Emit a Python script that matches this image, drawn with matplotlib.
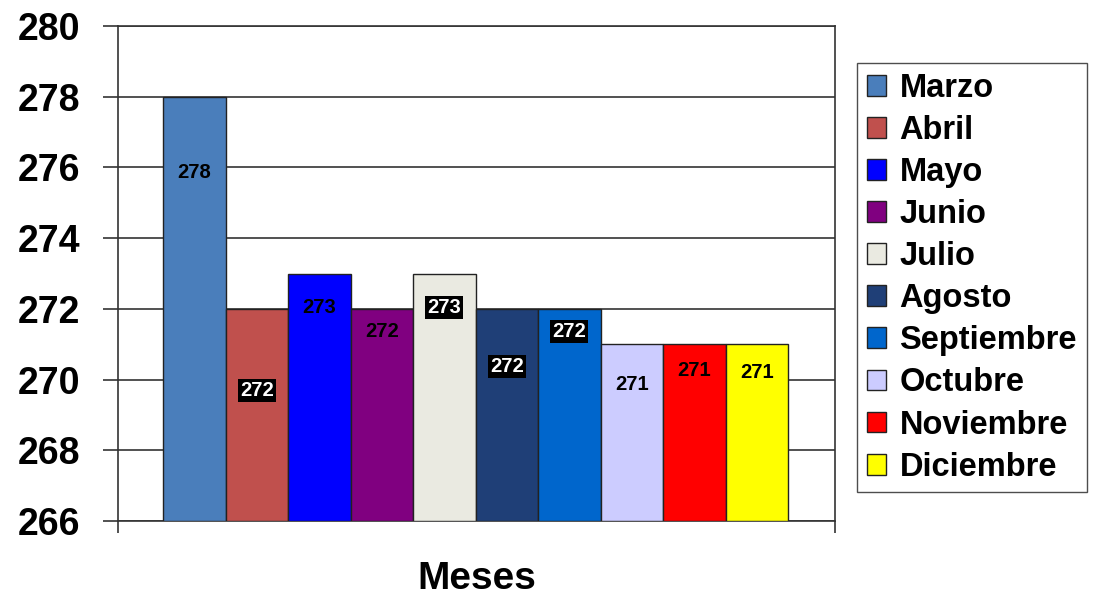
import matplotlib
matplotlib.use("Agg")
import matplotlib.pyplot as plt

plt.rcParams['font.family'] = ['Liberation Sans', 'DejaVu Sans']
plt.rcParams['font.weight'] = 'bold'

months = ["Marzo", "Abril", "Mayo", "Junio", "Julio", "Agosto",
          "Septiembre", "Octubre", "Noviembre", "Diciembre"]
values = [278, 272, 273, 272, 273, 272, 272, 271, 271, 271]
colors = ["#4A7EBB", "#C0504D", "#0000FF", "#800080", "#EAEAE1", "#1F3F77",
          "#0066CC", "#CCCCFF", "#FF0000", "#FFFF00"]
# label placement (y in data units) and style (True = white on black box)
label_y = [275.85, 269.7, 272.05, 271.35, 272.03, 270.38, 271.37, 269.85, 270.27, 270.2]
label_boxed = [False, True, False, False, True, True, True, False, False, False]
yticks = [266, 268, 270, 272, 274, 276, 278, 280]
xlabel = "Meses"

fig = plt.figure(figsize=(10.94, 5.97), dpi=100)
ax = fig.add_axes([0.1079, 0.1273, 0.6554, 0.8291])

ymin, ymax = 266, 280
for i, (m, v, c) in enumerate(zip(months, values, colors)):
    ax.bar(i, v - ymin, bottom=ymin, width=1.0, color=c, edgecolor="#222222",
           linewidth=1.0, label=m, zorder=3)

for i, (v, ly, boxed) in enumerate(zip(values, label_y, label_boxed)):
    if boxed:
        ax.text(i, ly, str(v), ha="center", va="center", fontsize=14.5,
                fontweight="bold", color="white", zorder=5,
                bbox=dict(boxstyle="square,pad=0.1", fc="black", ec="none"))
    else:
        ax.text(i, ly, str(v), ha="center", va="center", fontsize=14.5,
                fontweight="bold", color="black", zorder=5)

ax.set_xlim(-1.22, 10.25)
ax.set_ylim(ymin, ymax)
ax.set_yticks(yticks)
ax.set_yticklabels([str(t) for t in yticks], fontsize=27, fontweight="bold")
ax.yaxis.grid(True, color="#333333", linewidth=1.2, zorder=0)
ax.set_axisbelow(True)
ax.tick_params(axis="y", direction="out", length=11, width=1.2, color="#333333", pad=16)
ax.set_xticks([-1.22, 10.25])
ax.set_xticklabels(["", ""])
ax.tick_params(axis="x", direction="out", length=8.5, width=1.2, color="#333333")
for s in ax.spines.values():
    s.set_color("#333333")
    s.set_linewidth(1.2)
ax.set_xlabel(xlabel, fontsize=28, fontweight="bold", va="center")
ax.xaxis.set_label_coords(0.5, -0.117)

leg = fig.legend(loc="upper left", bbox_to_anchor=(0.7834, 0.8945),
                 borderaxespad=0, frameon=True, fancybox=False,
                 handlelength=0.6, handleheight=0.6, handletextpad=0.4,
                 labelspacing=0.34, borderpad=0.3, edgecolor="#222222",
                 prop={"weight": "bold", "size": 23.5})
leg.get_frame().set_linewidth(1.0)

fig.savefig("out.png", dpi=100)
